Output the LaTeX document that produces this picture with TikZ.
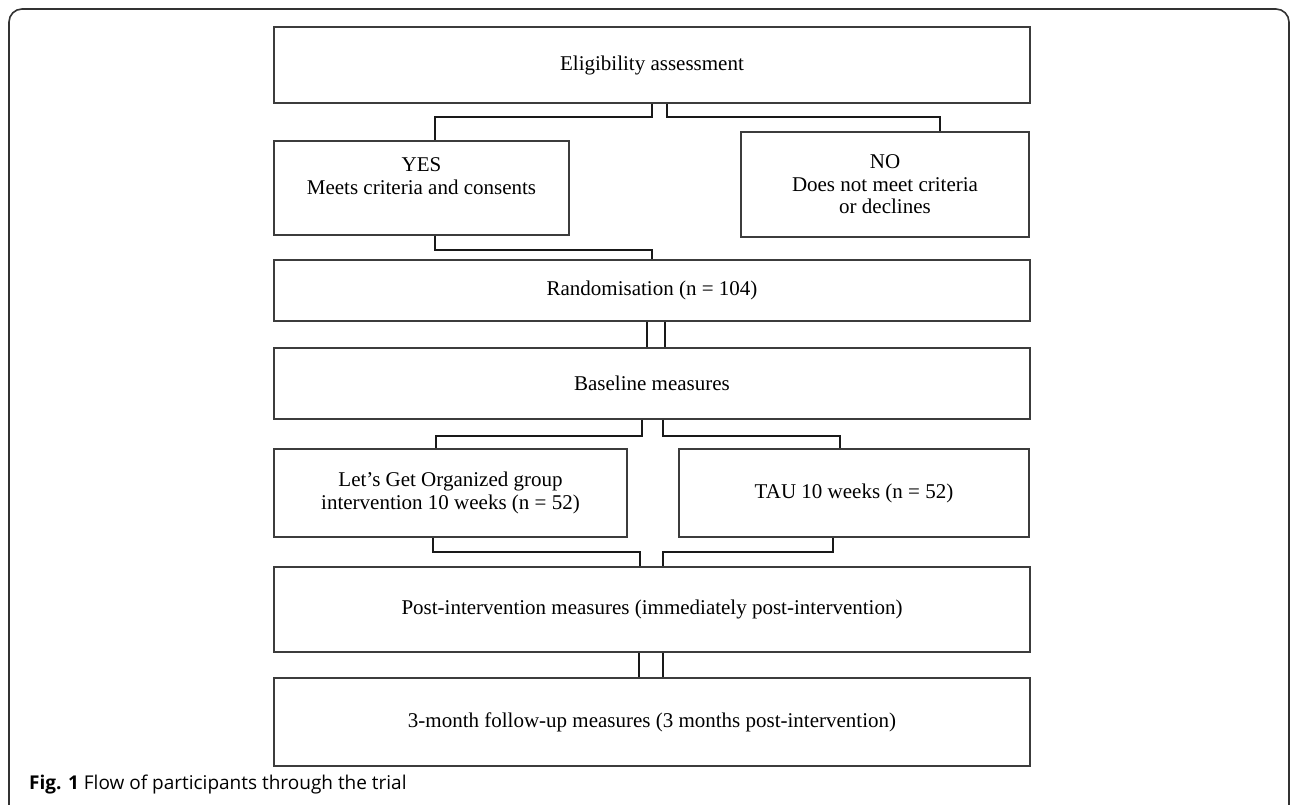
\documentclass[tikz,border=0pt]{standalone}
\usepackage{fontspec}
\setmainfont{Liberation Serif}
\newfontfamily\captionfont{Open Sans}
\usepackage{tikz}
\definecolor{boxline}{RGB}{60, 60, 60}
\definecolor{linkline}{RGB}{25, 25, 25}

\begin{document}
\begin{tikzpicture}[x=1pt, y=-1pt,
    box/.style={draw=boxline, line width=1.3pt, align=center, inner sep=0pt,
                font=\fontsize{21}{22.5}\selectfont},
    link/.style={draw=linkline, line width=2pt}]
            \useasboundingbox (0,0) rectangle (1292,805);
            \draw[black!80, line width=1.6pt, rounded corners=13pt] (9,805) -- (9,9) -- (1289,9) -- (1289,805);
            % boxes
            \node[box, minimum width=756pt, minimum height=76pt]  (elig)  at (652.0, 65.0)  {Eligibility assessment};
            \node[box, minimum width=295pt, minimum height=94pt]  (yes)   at (421.5,188.0)
                 {\raisebox{4pt}[0pt][0pt]{\begin{tabular}{@{}c@{}}YES\\[0.5pt]Meets criteria and consents\end{tabular}}};
            \node[box, minimum width=288pt, minimum height=105pt] (no)    at (885.0,184.5)  {NO\\Does not meet criteria\\or declines};
            \node[box, minimum width=756pt, minimum height=61pt]  (rand)  at (652.0,290.5)  {Randomisation (n = 104)};
            \node[box, minimum width=756pt, minimum height=71pt]  (base)  at (652.0,383.5)  {Baseline measures};
            \node[box, minimum width=353pt, minimum height=88pt]  (lgo)   at (450.5,493.0)  {Let’s Get Organized group\\intervention 10 weeks (n = 52)};
            \node[box, minimum width=350pt, minimum height=88pt]  (tau)   at (854.0,493.0)  {TAU 10 weeks (n = 52)};
            \node[box, minimum width=756pt, minimum height=85pt]  (post)  at (652.0,609.5)  {Post-intervention measures (immediately post-intervention)};
            \node[box, minimum width=756pt, minimum height=88pt]  (follow) at (652.0,722.0) {3-month follow-up measures (3 months post-intervention)};
            % connectors
            \draw[link] ([xshift=0pt]elig.south)   -- ++(0,13) -| ([xshift=13.5pt]yes.north);
            \draw[link] ([xshift=15pt]elig.south)  -- ++(0,13) -| ([xshift=55pt]no.north);
            \draw[link] ([xshift=13.5pt]yes.south) -- ++(0,14) -| (rand.north);
            \draw[link] ([xshift=-5pt]rand.south)  -- ([xshift=-5pt]base.north);
            \draw[link] ([xshift=13pt]rand.south)  -- ([xshift=13pt]base.north);
            \draw[link] ([xshift=-10pt]base.south) -- ++(0,16) -| ([xshift=-14.5pt]lgo.north);
            \draw[link] ([xshift=11pt]base.south)  -- ++(0,16) -| ([xshift=-14pt]tau.north);
            \draw[link] ([xshift=-18pt]lgo.south)  -- ++(0,14) -| ([xshift=-12pt]post.north);
            \draw[link] ([xshift=-21pt]tau.south)  -- ++(0,14) -| ([xshift=11pt]post.north);
            \draw[link] ([xshift=-13pt]post.south) -- ([xshift=-13pt]follow.north);
            \draw[link] ([xshift=11pt]post.south)  -- ([xshift=11pt]follow.north);
            % caption
            \node[anchor=west, inner sep=0pt, font=\captionfont\fontsize{19}{22}\selectfont] (caption) at (29,785)
                 {\textbf{Fig. 1} Flow of participants through the trial};
\end{tikzpicture}
\end{document}
